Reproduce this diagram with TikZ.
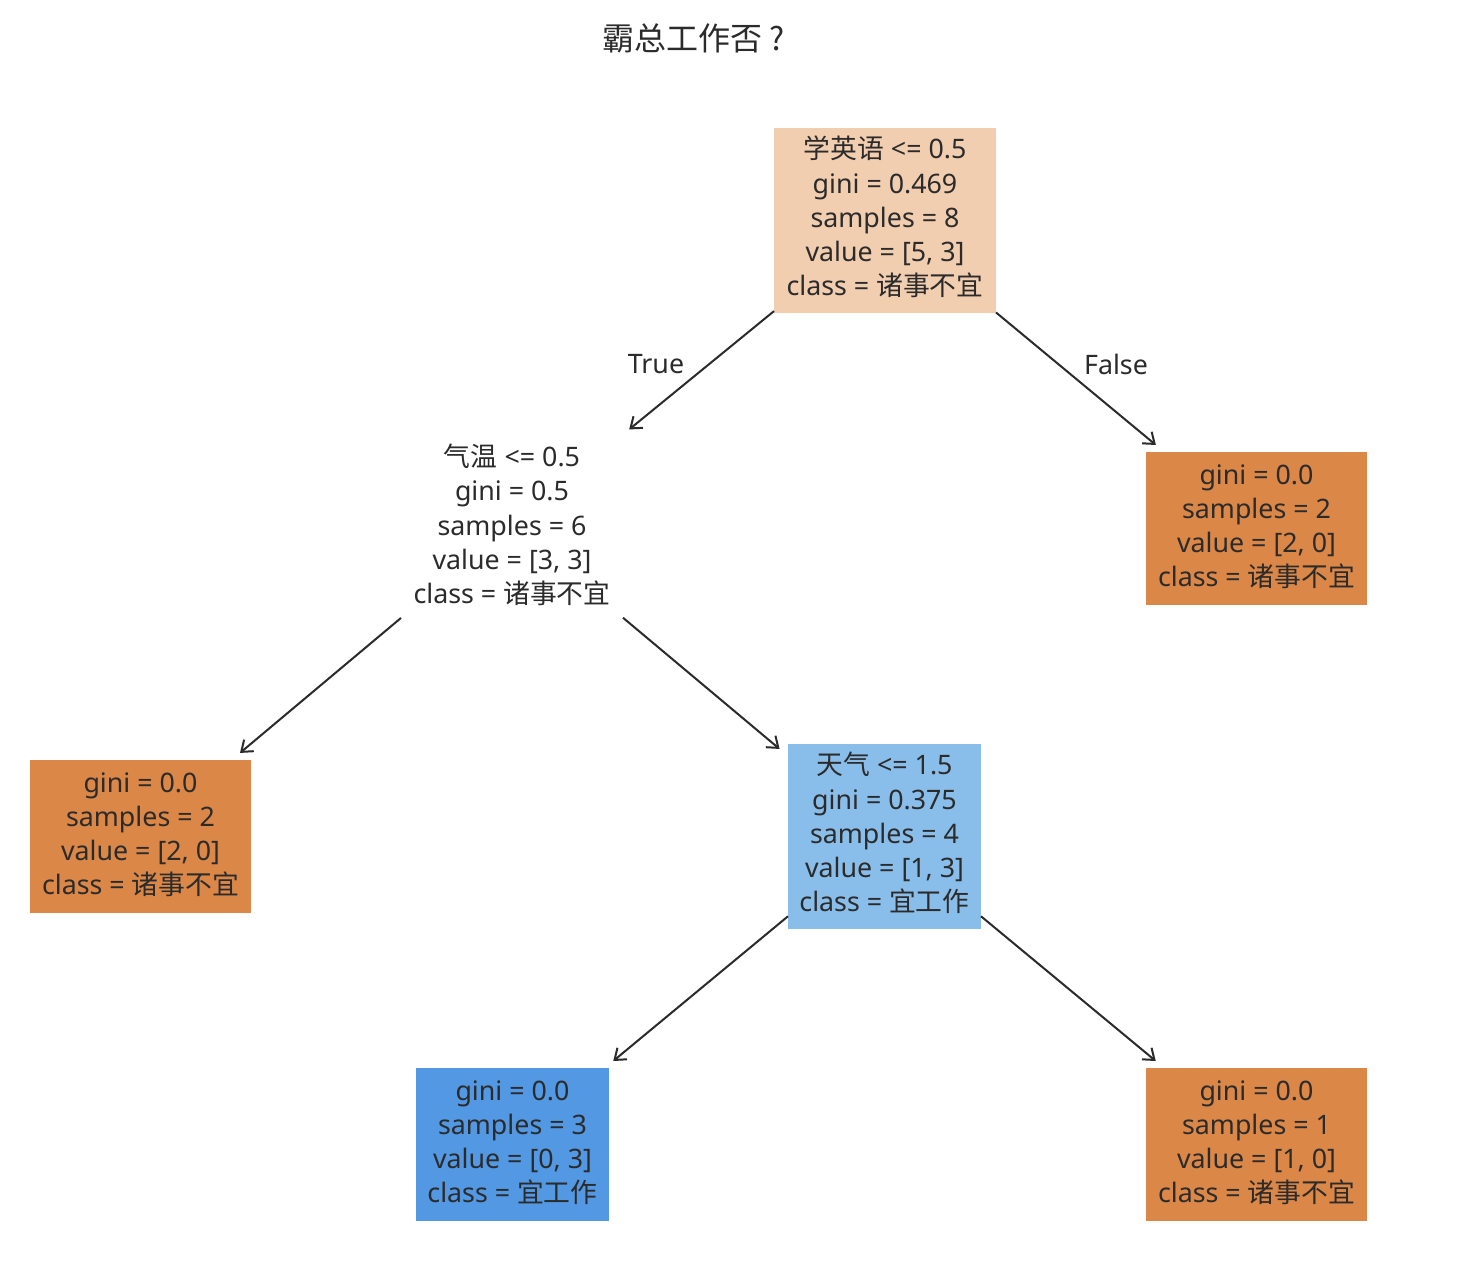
\documentclass[tikz,border=0pt]{standalone}
\usepackage{fontspec}
\setmainfont{Noto Sans}
\newfontfamily\cjk{Noto Sans CJK SC}
\usetikzlibrary{arrows.meta}
\definecolor{txt}{HTML}{2B2B2B}
\definecolor{orng}{RGB}{218,135,72}
\definecolor{peach}{RGB}{242,206,176}
\definecolor{lblue}{RGB}{138,190,234}
\definecolor{dblue}{RGB}{82,152,226}
\tikzset{
  tnode/.style={inner sep=0pt, outer sep=0pt, align=center, text=txt,
    font=\fontsize{13.4}{17.1}\selectfont},
  edge/.style={draw=txt, line width=1pt, -{Straight Barb[length=5pt,width=7.5pt]}, shorten >=5.5pt},
  lbl/.style={text=txt, font=\fontsize{13.4}{17}\selectfont, inner sep=0pt},
}
\begin{document}
\begin{tikzpicture}[x=0.5pt,y=-0.5pt]
\useasboundingbox (0,0) rectangle (1464,1264);
\fill[white] (0,0) rectangle (1464,1264);

\node[lbl, font=\fontsize{16}{20}\selectfont] (title) at (694,38) {\cjk 霸总工作否 ?};

\node[tnode, fill=peach, minimum width=111pt, minimum height=92.5pt] (root) at (885,220.5)
  {\raisebox{1.5pt}{\begin{tabular}{@{}c@{}}{\cjk 学英语} <= 0.5\\gini = 0.469\\samples = 8\\value = [5, 3]\\class = {\cjk 诸事不宜}\end{tabular}}};
\node[tnode, minimum width=111pt, minimum height=94pt] (n2) at (512,525)
  {{\cjk 气温} <= 0.5\\gini = 0.5\\samples = 6\\value = [3, 3]\\class = {\cjk 诸事不宜}};
\node[tnode, fill=orng, minimum width=110.5pt, minimum height=76.5pt] (rl) at (1256.5,528.5)
  {\raisebox{1pt}{\begin{tabular}{@{}c@{}}gini = 0.0\\samples = 2\\value = [2, 0]\\class = {\cjk 诸事不宜}\end{tabular}}};
\node[tnode, fill=orng, minimum width=110.5pt, minimum height=76.5pt] (ll) at (140.5,836.5)
  {\raisebox{1pt}{\begin{tabular}{@{}c@{}}gini = 0.0\\samples = 2\\value = [2, 0]\\class = {\cjk 诸事不宜}\end{tabular}}};
\node[tnode, fill=lblue, minimum width=96.5pt, minimum height=92.5pt] (n3) at (884.5,836.5)
  {\raisebox{1pt}{\begin{tabular}{@{}c@{}}{\cjk 天气} <= 1.5\\gini = 0.375\\samples = 4\\value = [1, 3]\\class = {\cjk 宜工作}\end{tabular}}};
\node[tnode, fill=dblue, minimum width=96.5pt, minimum height=76.5pt] (bl) at (512.5,1144.5)
  {\raisebox{1pt}{\begin{tabular}{@{}c@{}}gini = 0.0\\samples = 3\\value = [0, 3]\\class = {\cjk 宜工作}\end{tabular}}};
\node[tnode, fill=orng, minimum width=110.5pt, minimum height=76.5pt] (br) at (1256.5,1144.5)
  {\raisebox{1pt}{\begin{tabular}{@{}c@{}}gini = 0.0\\samples = 1\\value = [1, 0]\\class = {\cjk 诸事不宜}\end{tabular}}};

\draw[edge, shorten >=4pt] (root) -- (n2);
\draw[edge] (root) -- (rl);
\draw[edge] (n2) -- (ll);
\draw[edge] (n2) -- (n3);
\draw[edge] (n3) -- (bl);
\draw[edge] (n3) -- (br);

\node[lbl] (ltrue) at (656,364) {True};
\node[lbl] (lfalse) at (1116,364) {False};
\end{tikzpicture}
\end{document}
